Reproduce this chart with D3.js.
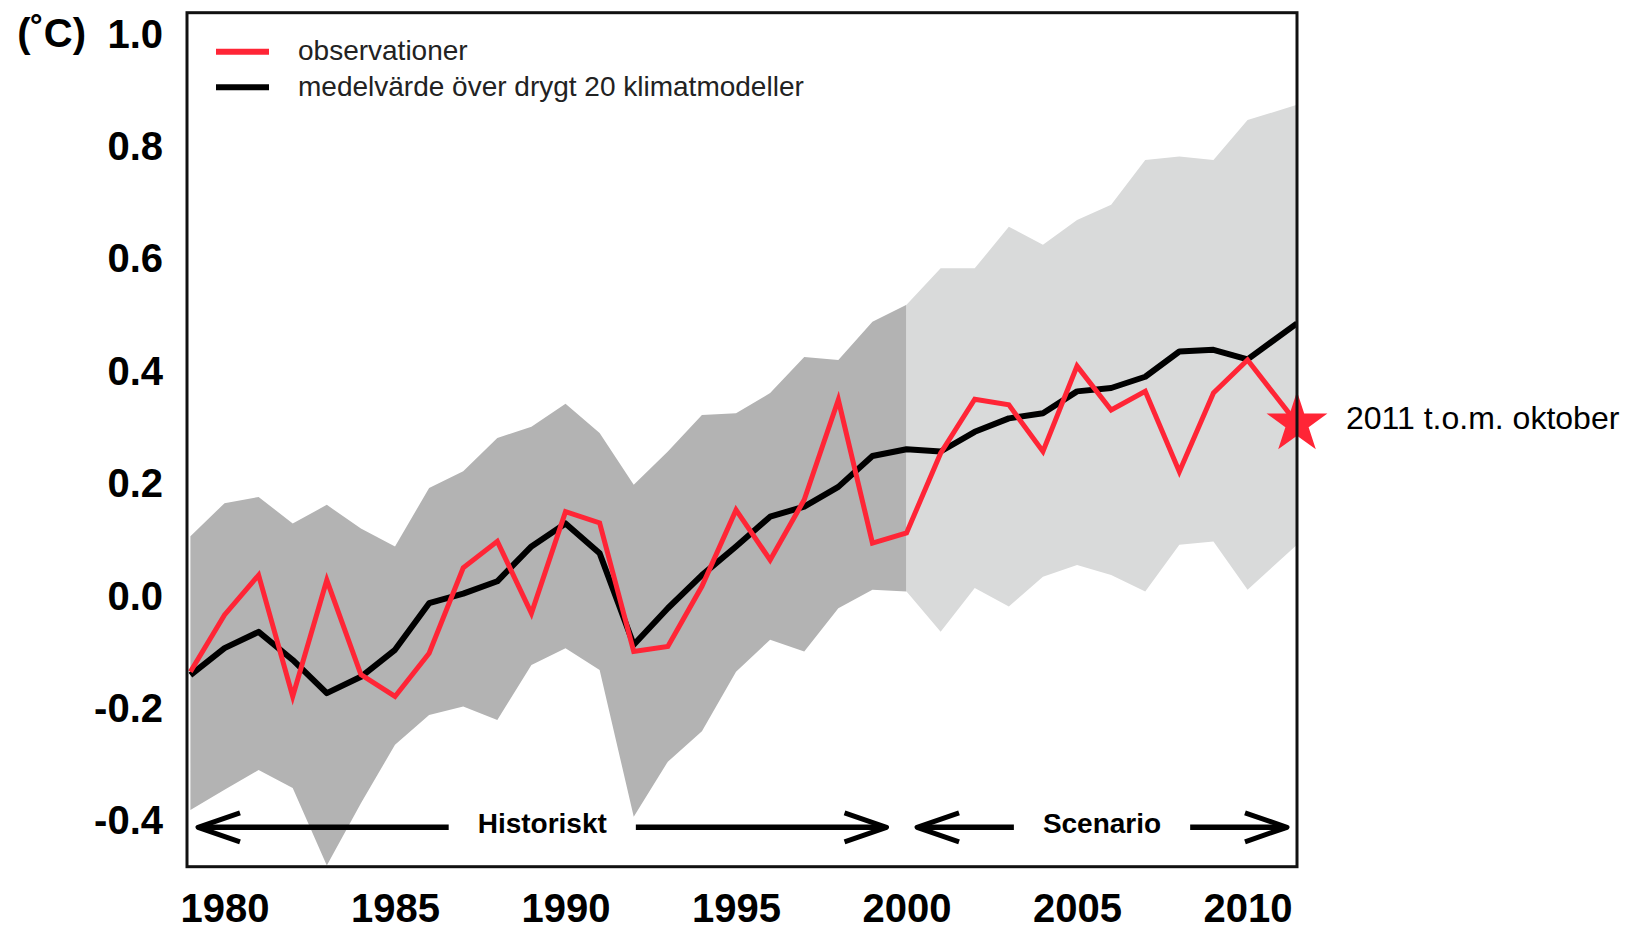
<!DOCTYPE html>
<html>
<head>
<meta charset="utf-8">
<script src="https://cdn.jsdelivr.net/npm/d3@7"></script>
<style>
  body { margin: 0; background: #fff; }
  svg { display: block; }
</style>
</head>
<body>
<svg id="chart" width="1631" height="930"></svg>
<script>
// Annual global mean temperature anomaly (°C).
// The final entry is the partial year 2011 (through October).
const years = [1979, 1980, 1981, 1982, 1983, 1984, 1985, 1986, 1987, 1988,
               1989, 1990, 1991, 1992, 1993, 1994, 1995, 1996, 1997, 1998,
               1999, 2000, 2001, 2002, 2003, 2004, 2005, 2006, 2007, 2008,
               2009, 2010, 2011.45];

// Observations
const observed = [-0.135, -0.034, 0.037, -0.179, 0.028, -0.140, -0.179, -0.102, 0.050, 0.097,
                  -0.031, 0.150, 0.130, -0.099, -0.090, 0.017, 0.153, 0.064, 0.171, 0.349,
                  0.094, 0.112, 0.254, 0.350, 0.340, 0.257, 0.409, 0.331, 0.364, 0.221,
                  0.361, 0.420, 0.307];

// Mean of the climate model ensemble
const modelMean = [-0.141, -0.093, -0.064, -0.114, -0.173, -0.144, -0.096, -0.013, 0.004, 0.026,
                   0.088, 0.129, 0.076, -0.087, -0.022, 0.037, 0.088, 0.141, 0.159, 0.194,
                   0.249, 0.261, 0.257, 0.292, 0.316, 0.325, 0.364, 0.370, 0.390, 0.435,
                   0.438, 0.421, 0.485];

// Model spread (upper and lower envelope)
const modelHigh = [0.106, 0.165, 0.176, 0.129, 0.162, 0.120, 0.088, 0.192, 0.222, 0.281,
                   0.301, 0.342, 0.290, 0.198, 0.257, 0.322, 0.325, 0.361, 0.425, 0.420,
                   0.488, 0.518, 0.583, 0.583, 0.657, 0.625, 0.669, 0.696, 0.776, 0.782,
                   0.776, 0.847, 0.874];

const modelLow = [-0.381, -0.345, -0.310, -0.342, -0.480, -0.369, -0.265, -0.212, -0.197, -0.221,
                  -0.123, -0.093, -0.132, -0.393, -0.295, -0.241, -0.135, -0.078, -0.099, -0.022,
                  0.011, 0.008, -0.064, 0.014, -0.019, 0.034, 0.055, 0.037, 0.008, 0.091,
                  0.097, 0.011, 0.091];

const splitYear = 2000;                       // historical runs end, scenario runs begin
const yTicks = [1.0, 0.8, 0.6, 0.4, 0.2, 0.0, -0.2, -0.4];
const xTicks = [1980, 1985, 1990, 1995, 2000, 2005, 2010];
const legendLabels = ["observationer", "medelvärde över drygt 20 klimatmodeller"];
const periodLabels = ["Historiskt", "Scenario"];
const unitLabel = "(˚C)";
const lastLabel = "2011 t.o.m. oktober";

const rows = years.map((yr, i) => ({
  yr, obs: observed[i], mean: modelMean[i], hi: modelHigh[i], lo: modelLow[i]
}));

const FONT = "'Liberation Sans', Arial, Helvetica, sans-serif";
const RED = "#ff2536";
const frame = { left: 187, right: 1297, top: 12.7, bottom: 866.7 };

const svg = d3.select("#chart");
svg.append("rect").attr("width", 1631).attr("height", 930).attr("fill", "#fff");

const x = d3.scaleLinear().domain([1978.9, 2011.45]).range([frame.left, frame.right]);
const y = d3.scaleLinear().domain([-0.482, 1.038]).range([frame.bottom, frame.top]);

svg.append("clipPath").attr("id", "plot-clip")
  .append("rect")
  .attr("x", frame.left).attr("y", frame.top)
  .attr("width", frame.right - frame.left).attr("height", frame.bottom - frame.top);

const plot = svg.append("g").attr("clip-path", "url(#plot-clip)");

// Model spread: darker for the historical period, lighter for the scenario
const band = d3.area().x(d => x(d.yr)).y0(d => y(d.lo)).y1(d => y(d.hi));
plot.append("path")
  .datum(rows.filter(d => d.yr <= splitYear))
  .attr("d", band).attr("fill", "#b3b3b3");
plot.append("path")
  .datum(rows.filter(d => d.yr >= splitYear))
  .attr("d", band).attr("fill", "#d9dada");

// Model mean
plot.append("path")
  .datum(rows)
  .attr("d", d3.line().x(d => x(d.yr)).y(d => y(d.mean)))
  .attr("fill", "none").attr("stroke", "#000").attr("stroke-width", 6)
  .attr("stroke-linejoin", "round");

// Observations
plot.append("path")
  .datum(rows)
  .attr("d", d3.line().x(d => x(d.yr)).y(d => y(d.obs)))
  .attr("fill", "none").attr("stroke", RED).attr("stroke-width", 5)
  .attr("stroke-linejoin", "miter");

// Star for the partial final year
const last = rows[rows.length - 1];
svg.append("path")
  .attr("transform", `translate(${x(last.yr)},${y(last.obs)})`)
  .attr("d", d3.symbol(d3.symbolStar, 32 * 32 / 0.8908130915292852)())
  .attr("fill", RED);

svg.append("text")
  .attr("x", x(last.yr) + 49).attr("y", y(last.obs) - 6)
  .attr("dy", "0.36em")
  .attr("font-family", FONT).attr("font-size", 32)
  .attr("fill", "#000")
  .text(lastLabel);

// Period arrows with labels
const arrowY = 827.3;
const periods = [
  { label: periodLabels[0], x0: x(1978.9) + 11, x1: x(splitYear) - 20 },
  { label: periodLabels[1], x0: x(splitYear) + 10.5, x1: x(2011.45) - 10 }
];
const arrows = svg.append("g");
periods.forEach(p => {
  const mid = (p.x0 + p.x1) / 2;
  const t = arrows.append("text")
    .attr("x", mid).attr("y", arrowY).attr("dy", "0.22em")
    .attr("text-anchor", "middle")
    .attr("font-family", FONT).attr("font-weight", "bold").attr("font-size", 28)
    .attr("fill", "#000")
    .text(p.label);
  const w = t.node().getComputedTextLength();
  const gap = 29;
  const segs = [[p.x0 + 2, mid - w / 2 - gap], [mid + w / 2 + gap, p.x1 - 2]];
  segs.forEach(s => {
    arrows.append("line")
      .attr("x1", s[0]).attr("x2", s[1]).attr("y1", arrowY).attr("y2", arrowY)
      .attr("stroke", "#000").attr("stroke-width", 5.5);
  });
  const headDx = 42, headDy = 14.5;
  arrows.append("path")
    .attr("d", `M${p.x0 + headDx},${arrowY - headDy} L${p.x0},${arrowY} L${p.x0 + headDx},${arrowY + headDy}`)
    .attr("fill", "none").attr("stroke", "#000").attr("stroke-width", 5)
    .attr("stroke-linejoin", "round");
  arrows.append("path")
    .attr("d", `M${p.x1 - headDx},${arrowY - headDy} L${p.x1},${arrowY} L${p.x1 - headDx},${arrowY + headDy}`)
    .attr("fill", "none").attr("stroke", "#000").attr("stroke-width", 5)
    .attr("stroke-linejoin", "round");
});

// Frame
svg.append("rect")
  .attr("x", frame.left).attr("y", frame.top)
  .attr("width", frame.right - frame.left).attr("height", frame.bottom - frame.top)
  .attr("fill", "none").attr("stroke", "#111").attr("stroke-width", 3);

// Axes (labels only, no tick marks)
const yAxis = svg.append("g")
  .attr("transform", `translate(${frame.left},0)`)
  .call(d3.axisLeft(y).tickValues(yTicks).tickSize(0).tickPadding(24)
        .tickFormat(v => v.toFixed(1)));
yAxis.select(".domain").remove();
yAxis.selectAll("text")
  .attr("dy", "0.33em")
  .attr("font-family", FONT).attr("font-weight", "bold").attr("font-size", 40)
  .attr("fill", "#000");

const xAxis = svg.append("g")
  .attr("transform", `translate(0,${frame.bottom})`)
  .call(d3.axisBottom(x).tickValues(xTicks).tickSize(0).tickPadding(27)
        .tickFormat(d3.format("d")));
xAxis.select(".domain").remove();
xAxis.selectAll("text")
  .attr("font-family", FONT).attr("font-weight", "bold").attr("font-size", 40)
  .attr("fill", "#000");

// Unit label beside the top tick
svg.append("text")
  .attr("x", 86).attr("y", y(1.0)).attr("dy", "0.33em")
  .attr("text-anchor", "end")
  .attr("font-family", FONT).attr("font-weight", "bold").attr("font-size", 40)
  .attr("fill", "#000")
  .text(unitLabel);

// Legend
const legend = svg.append("g");
const legendItems = [
  { label: legendLabels[0], color: RED, cy: 51.7 },
  { label: legendLabels[1], color: "#000", cy: 87.3 }
];
legendItems.forEach(it => {
  legend.append("line")
    .attr("x1", 216).attr("x2", 269).attr("y1", it.cy).attr("y2", it.cy)
    .attr("stroke", it.color).attr("stroke-width", 6);
  legend.append("text")
    .attr("x", 298).attr("y", it.cy).attr("dy", "0.3em")
    .attr("font-family", FONT).attr("font-size", 28)
    .attr("fill", "#222")
    .text(it.label);
});
</script>
</body>
</html>
